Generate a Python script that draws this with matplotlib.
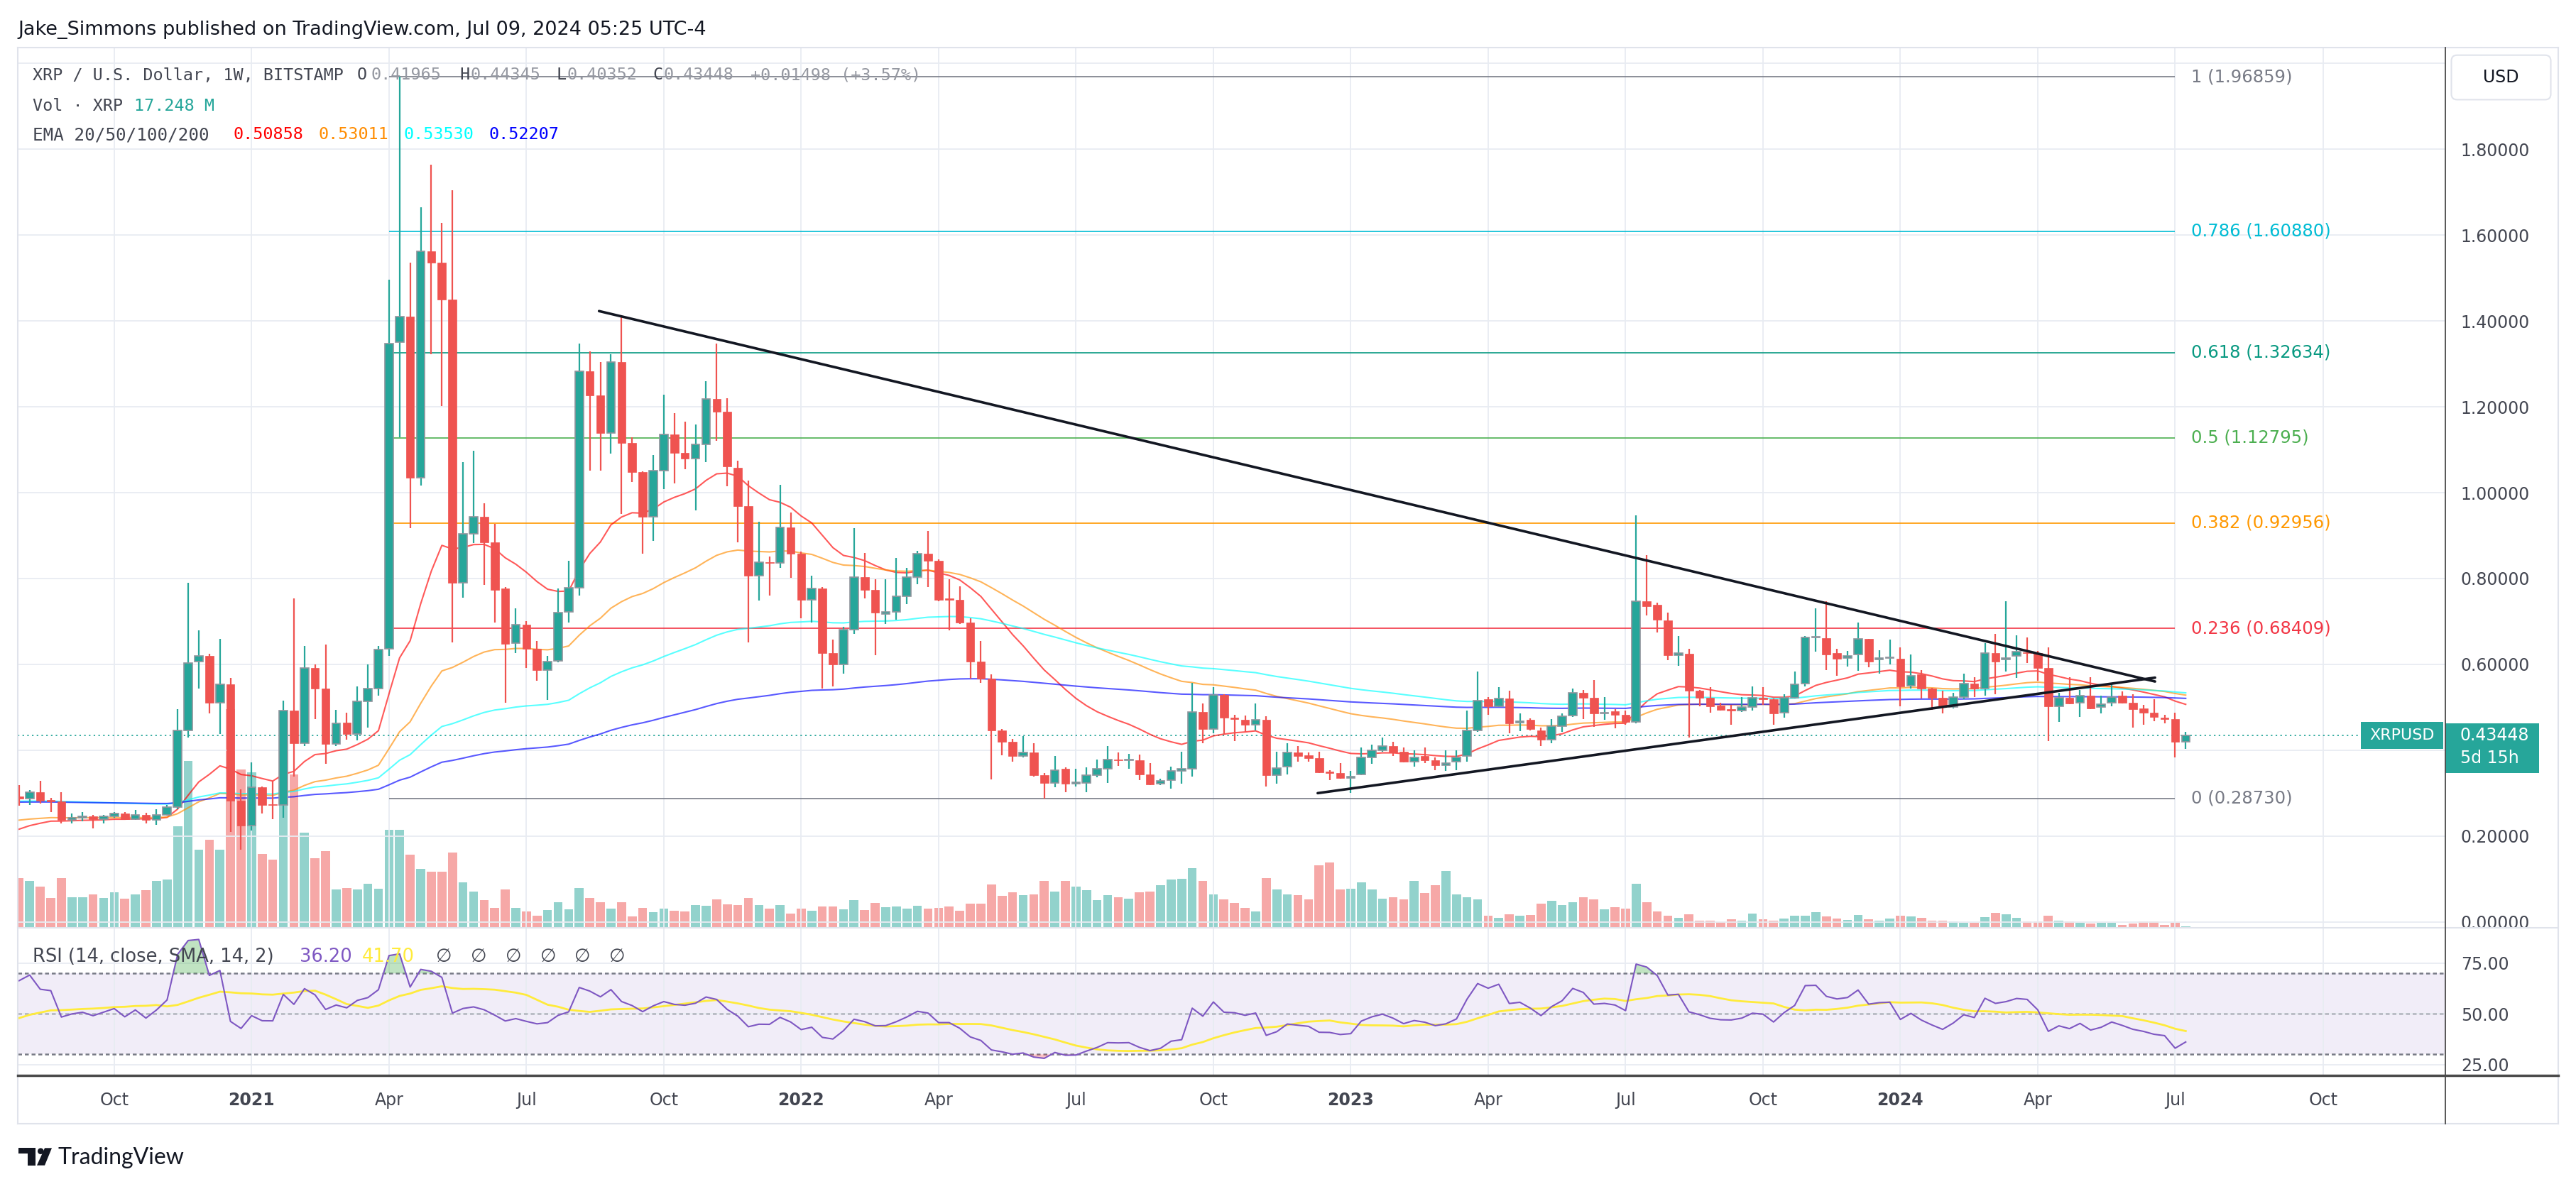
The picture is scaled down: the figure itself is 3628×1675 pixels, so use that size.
import numpy as np
import pandas as pd
import matplotlib
matplotlib.use("Agg")
import matplotlib.pyplot as plt
from matplotlib.patches import Rectangle, FancyBboxPatch, Polygon, Circle
from matplotlib.ticker import FuncFormatter

plt.rcParams['font.family'] = ['DejaVu Sans']

#----------------------------------- DATA: XRP / USD weekly, Bitstamp
first_week = '2020-08-03'

o = [0.292, 0.287, 0.302, 0.283, 0.281, 0.237, 0.243, 0.246, 0.240, 0.246,
     0.252, 0.239, 0.250, 0.237, 0.250, 0.268, 0.446, 0.607, 0.620, 0.511,
     0.553, 0.282, 0.224, 0.313, 0.273, 0.272, 0.492, 0.417, 0.592, 0.543,
     0.415, 0.464, 0.437, 0.514, 0.544, 0.636, 1.351, 1.410, 1.035, 1.562,
     1.535, 1.449, 0.790, 0.904, 0.943, 0.884, 0.776, 0.649, 0.692, 0.636,
     0.586, 0.608, 0.723, 0.778, 1.283, 1.227, 1.139, 1.305, 1.116, 1.048,
     0.943, 1.052, 1.135, 1.093, 1.080, 1.113, 1.218, 1.188, 1.058, 0.969,
     0.806, 0.838, 0.836, 0.919, 0.858, 0.751, 0.776, 0.626, 0.600, 0.681,
     0.803, 0.773, 0.717, 0.723, 0.759, 0.803, 0.857, 0.841, 0.753, 0.751,
     0.697, 0.606, 0.566, 0.446, 0.420, 0.387, 0.394, 0.341, 0.324, 0.357,
     0.322, 0.324, 0.341, 0.357, 0.378, 0.376, 0.377, 0.344, 0.322, 0.331,
     0.352, 0.357, 0.489, 0.449, 0.528, 0.475, 0.471, 0.459, 0.470, 0.341,
     0.361, 0.394, 0.388, 0.381, 0.348, 0.346, 0.336, 0.344, 0.383, 0.399,
     0.409, 0.396, 0.374, 0.386, 0.377, 0.365, 0.373, 0.387, 0.446, 0.518,
     0.502, 0.521, 0.464, 0.471, 0.446, 0.424, 0.456, 0.481, 0.534, 0.522,
     0.485, 0.490, 0.483, 0.466, 0.747, 0.738, 0.702, 0.622, 0.625, 0.538,
     0.522, 0.504, 0.494, 0.492, 0.501, 0.522, 0.518, 0.488, 0.522, 0.555,
     0.662, 0.661, 0.626, 0.615, 0.623, 0.659, 0.612, 0.614, 0.613, 0.551,
     0.577, 0.544, 0.522, 0.501, 0.524, 0.555, 0.544, 0.626, 0.611, 0.619,
     0.627, 0.626, 0.592, 0.502, 0.522, 0.511, 0.527, 0.501, 0.511, 0.527,
     0.511, 0.498, 0.488, 0.476, 0.472, 0.41965]

h = [0.318, 0.307, 0.328, 0.289, 0.302, 0.252, 0.256, 0.250, 0.250, 0.256,
     0.256, 0.260, 0.255, 0.263, 0.273, 0.496, 0.790, 0.680, 0.624, 0.659,
     0.568, 0.309, 0.371, 0.316, 0.328, 0.515, 0.753, 0.642, 0.600, 0.646,
     0.494, 0.488, 0.548, 0.600, 0.642, 1.496, 1.9686, 1.535, 1.665, 1.764,
     1.628, 1.704, 1.071, 1.097, 0.976, 0.927, 0.780, 0.731, 0.700, 0.655,
     0.619, 0.777, 0.841, 1.348, 1.329, 1.304, 1.322, 1.414, 1.129, 1.050,
     1.087, 1.229, 1.185, 1.165, 1.159, 1.259, 1.348, 1.220, 1.074, 1.028,
     0.933, 0.851, 1.019, 0.953, 0.862, 0.806, 0.780, 0.658, 0.688, 0.917,
     0.859, 0.799, 0.799, 0.848, 0.825, 0.865, 0.910, 0.845, 0.799, 0.782,
     0.708, 0.655, 0.577, 0.450, 0.426, 0.433, 0.417, 0.347, 0.386, 0.360,
     0.357, 0.360, 0.378, 0.409, 0.394, 0.391, 0.390, 0.370, 0.334, 0.361,
     0.396, 0.557, 0.509, 0.547, 0.530, 0.483, 0.481, 0.509, 0.479, 0.396,
     0.417, 0.409, 0.394, 0.396, 0.354, 0.370, 0.352, 0.407, 0.413, 0.430,
     0.420, 0.407, 0.400, 0.407, 0.383, 0.399, 0.399, 0.492, 0.583, 0.524,
     0.547, 0.538, 0.485, 0.474, 0.453, 0.472, 0.485, 0.544, 0.540, 0.564,
     0.524, 0.496, 0.492, 0.947, 0.854, 0.743, 0.721, 0.666, 0.636, 0.540,
     0.547, 0.511, 0.505, 0.524, 0.548, 0.547, 0.520, 0.531, 0.583, 0.666,
     0.731, 0.747, 0.636, 0.632, 0.697, 0.660, 0.633, 0.658, 0.640, 0.623,
     0.587, 0.545, 0.538, 0.534, 0.579, 0.570, 0.649, 0.671, 0.747, 0.668,
     0.662, 0.632, 0.640, 0.534, 0.570, 0.540, 0.570, 0.527, 0.557, 0.537,
     0.531, 0.505, 0.518, 0.483, 0.488, 0.44345]

l = [0.270, 0.272, 0.276, 0.256, 0.230, 0.229, 0.234, 0.217, 0.229, 0.243,
     0.237, 0.237, 0.229, 0.226, 0.247, 0.262, 0.430, 0.544, 0.485, 0.437,
     0.210, 0.169, 0.213, 0.252, 0.240, 0.243, 0.339, 0.410, 0.472, 0.368,
     0.410, 0.424, 0.423, 0.452, 0.527, 0.619, 1.129, 0.917, 1.017, 1.322,
     1.202, 0.651, 0.756, 0.883, 0.785, 0.697, 0.511, 0.626, 0.592, 0.561,
     0.517, 0.605, 0.697, 0.760, 1.052, 1.052, 1.091, 0.950, 1.024, 0.858,
     0.887, 1.008, 1.021, 1.054, 0.959, 1.071, 1.120, 1.015, 0.884, 0.651,
     0.749, 0.760, 0.825, 0.802, 0.708, 0.697, 0.544, 0.548, 0.579, 0.671,
     0.753, 0.621, 0.694, 0.704, 0.740, 0.786, 0.780, 0.747, 0.679, 0.694,
     0.566, 0.557, 0.332, 0.388, 0.373, 0.383, 0.339, 0.2873, 0.313, 0.302,
     0.315, 0.302, 0.337, 0.324, 0.364, 0.357, 0.331, 0.319, 0.318, 0.311,
     0.322, 0.339, 0.417, 0.439, 0.436, 0.422, 0.443, 0.446, 0.315, 0.322,
     0.344, 0.373, 0.374, 0.346, 0.331, 0.334, 0.300, 0.341, 0.368, 0.397,
     0.386, 0.371, 0.361, 0.370, 0.354, 0.351, 0.354, 0.373, 0.443, 0.483,
     0.500, 0.440, 0.445, 0.446, 0.409, 0.417, 0.442, 0.477, 0.472, 0.455,
     0.470, 0.451, 0.459, 0.462, 0.714, 0.674, 0.609, 0.596, 0.430, 0.502,
     0.488, 0.492, 0.459, 0.489, 0.492, 0.505, 0.459, 0.476, 0.520, 0.548,
     0.629, 0.586, 0.573, 0.595, 0.585, 0.594, 0.579, 0.600, 0.502, 0.544,
     0.521, 0.494, 0.485, 0.497, 0.518, 0.524, 0.527, 0.531, 0.583, 0.568,
     0.603, 0.561, 0.422, 0.466, 0.507, 0.477, 0.496, 0.485, 0.502, 0.509,
     0.453, 0.459, 0.468, 0.462, 0.383, 0.40352]

c = [0.287, 0.302, 0.283, 0.281, 0.237, 0.243, 0.246, 0.240, 0.246, 0.252,
     0.239, 0.250, 0.237, 0.250, 0.268, 0.446, 0.603, 0.620, 0.511, 0.553,
     0.282, 0.224, 0.313, 0.273, 0.272, 0.492, 0.417, 0.592, 0.543, 0.415,
     0.462, 0.437, 0.514, 0.544, 0.634, 1.348, 1.410, 1.035, 1.562, 1.535,
     1.449, 0.790, 0.904, 0.943, 0.884, 0.773, 0.647, 0.692, 0.636, 0.587,
     0.606, 0.721, 0.778, 1.283, 1.227, 1.139, 1.305, 1.116, 1.048, 0.943,
     1.052, 1.135, 1.092, 1.080, 1.113, 1.218, 1.188, 1.061, 0.969, 0.806,
     0.838, 0.836, 0.919, 0.858, 0.751, 0.776, 0.626, 0.600, 0.681, 0.803,
     0.773, 0.721, 0.723, 0.759, 0.803, 0.857, 0.841, 0.751, 0.751, 0.697,
     0.606, 0.566, 0.446, 0.420, 0.387, 0.394, 0.341, 0.324, 0.354, 0.322,
     0.323, 0.341, 0.357, 0.378, 0.376, 0.377, 0.344, 0.320, 0.328, 0.352,
     0.357, 0.489, 0.449, 0.528, 0.475, 0.472, 0.459, 0.470, 0.341, 0.358,
     0.394, 0.387, 0.381, 0.348, 0.347, 0.336, 0.339, 0.383, 0.399, 0.409,
     0.394, 0.373, 0.383, 0.377, 0.365, 0.370, 0.383, 0.446, 0.515, 0.502,
     0.521, 0.463, 0.468, 0.449, 0.424, 0.456, 0.479, 0.534, 0.522, 0.485,
     0.488, 0.483, 0.466, 0.747, 0.736, 0.704, 0.621, 0.626, 0.538, 0.522,
     0.502, 0.494, 0.493, 0.501, 0.522, 0.518, 0.485, 0.522, 0.553, 0.662,
     0.664, 0.623, 0.613, 0.620, 0.659, 0.607, 0.614, 0.616, 0.548, 0.573,
     0.544, 0.522, 0.502, 0.524, 0.555, 0.544, 0.626, 0.607, 0.615, 0.629,
     0.626, 0.592, 0.502, 0.522, 0.509, 0.527, 0.498, 0.507, 0.524, 0.511,
     0.496, 0.488, 0.477, 0.472, 0.41965, 0.43448]

# weekly volume, millions of XRP
vol = [490, 462, 406, 294, 490, 301, 301, 329, 294, 350,
       287, 329, 371, 462, 476, 1001, 1645, 770, 868, 770,
       2156, 1561, 1533, 728, 672, 2142, 1512, 938, 686, 756,
       378, 392, 378, 434, 385, 966, 966, 721, 581, 553,
       553, 742, 448, 357, 273, 196, 378, 196, 161, 119,
       175, 252, 182, 392, 294, 252, 189, 252, 112, 196,
       154, 189, 168, 161, 224, 217, 280, 231, 224, 294,
       224, 189, 224, 140, 189, 168, 210, 210, 182, 273,
       175, 245, 203, 210, 189, 217, 189, 196, 210, 168,
       238, 238, 427, 315, 350, 322, 329, 462, 357, 462,
       406, 371, 273, 322, 301, 287, 350, 357, 420, 476,
       483, 588, 462, 329, 280, 245, 196, 161, 490, 378,
       329, 322, 280, 616, 644, 378, 385, 448, 378, 287,
       301, 280, 462, 343, 420, 560, 329, 301, 280, 119,
       98, 133, 119, 126, 238, 266, 224, 252, 301, 280,
       182, 203, 189, 434, 252, 161, 119, 98, 133, 67,
       67, 56, 84, 70, 140, 84, 70, 91, 119, 119,
       154, 112, 91, 77, 126, 84, 70, 91, 119, 112,
       98, 70, 70, 63, 49, 49, 105, 147, 133, 98,
       63, 63, 119, 70, 63, 49, 42, 49, 49, 28,
       42, 63, 63, 28, 49, 17.248]

ema_periods = [20, 50, 100, 200]
ema_seed = [0.216, 0.237, 0.281, 0.279]          # values at the first visible week
ema_colors = ['#ff0000', '#ff8c00', '#00ffff', '#0000ff']
ema_last = ['0.50858', '0.53011', '0.53530', '0.52207']

rsi_seed_gain, rsi_seed_loss = 0.0085, 0.0043    # Wilder averages at the first week
rsi_ma_seed = 46.5

fib_ratios = ['1', '0.786', '0.618', '0.5', '0.382', '0.236', '0']
fib_prices = [1.96859, 1.60880, 1.32634, 1.12795, 0.92956, 0.68409, 0.28730]
fib_colors = ['#787b86', '#00bcd4', '#089981', '#4caf50', '#ff9800', '#f23645', '#787b86']
fib_weeks = [35, 204]

# hand drawn triangle (week index, price)
trend_upper = [(54.87, 1.423), (202.1, 0.560)]
trend_lower = [(122.87, 0.2999), (202.1, 0.569)]

#----------------------------------- LAYOUT (pixels of the 3628x1675 picture)
W, H, DPI = 3628, 1675, 100
X0, X1, XR = 25, 3443.7, 3603
Y_TOP, Y_SPLIT, Y_RSI_BOT, Y_BOT = 66.7, 1307, 1515.4, 1583
BAR0, BAR_W = 26.9, 14.885          # px of first candle, px per week
P0_PX, PX_PER_USD = 1298.7, 604.7   # price scale
R50_PX, PX_PER_RSI = 1428.3, 2.852  # rsi scale
VOL_PER_PX = 7.0

UP, DN = '#26a69a', '#ef5350'
GRID = '#e8ecf2'
TXT = '#434651'
MONO = 'DejaVu Sans Mono'

n = len(c)
x = np.arange(n)
o_, h_, l_, c_ = map(np.array, (o, h, l, c))
dates = pd.date_range(first_week, periods=230, freq='W-MON')

#----------------------------------- INDICATORS
emas = []
for per, seed in zip(ema_periods, ema_seed):
    a = 2.0 / (per + 1)
    e = np.empty(n)
    e[0] = seed
    for i in range(1, n):
        e[i] = a * c_[i] + (1 - a) * e[i - 1]
    emas.append(e)

rsi = np.empty(n)
g, ls_ = rsi_seed_gain, rsi_seed_loss
rsi[0] = 100 * g / (g + ls_)
for i in range(1, n):
    d = c_[i] - c_[i - 1]
    g = (13 * g + max(d, 0)) / 14
    ls_ = (13 * ls_ + max(-d, 0)) / 14
    rsi[i] = 100 * g / (g + ls_)
rsi_ma = np.convolve(np.concatenate([np.full(13, rsi_ma_seed), rsi]), np.ones(14) / 14, mode='valid')

#----------------------------------- FIGURE
fig = plt.figure(figsize=(W / DPI, H / DPI), dpi=DPI, facecolor='white')
ax = fig.add_axes([X0 / W, 1 - Y_SPLIT / H, (X1 - X0) / W, (Y_SPLIT - Y_TOP) / H])
ax_vol = ax.twinx()
ax.set_zorder(ax_vol.get_zorder() + 1)
ax.patch.set_visible(False)
ax_rsi = fig.add_axes([X0 / W, 1 - Y_RSI_BOT / H, (X1 - X0) / W, (Y_RSI_BOT - Y_SPLIT) / H], sharex=ax)

ax.set_xlim((X0 - BAR0) / BAR_W, (X1 - BAR0) / BAR_W)
ax.set_ylim((P0_PX - Y_SPLIT) / PX_PER_USD, (P0_PX - Y_TOP) / PX_PER_USD)
ax_vol.set_ylim(0, VOL_PER_PX * (Y_SPLIT - Y_TOP))
ax_rsi.set_ylim(50 - (Y_RSI_BOT - R50_PX) / PX_PER_RSI, 50 + (R50_PX - Y_SPLIT) / PX_PER_RSI)

# quarter ticks on first week of Jan/Apr/Jul/Oct
tick_pos = [k for k, d in enumerate(dates) if d.month in (1, 4, 7, 10) and d.day <= 7]
tick_lbl = [str(dates[k].year) if dates[k].month == 1 else dates[k].strftime('%b') for k in tick_pos]

for a_ in (ax, ax_rsi):
    for s in a_.spines.values():
        s.set_visible(False)
    a_.set_xticks(tick_pos)
    a_.tick_params(axis='x', length=0, labelbottom=False)
    a_.grid(True, color=GRID, lw=1.3)
    a_.set_axisbelow(True)
ax_vol.axis('off')

# 0.4 and 2.0 sit under the price / currency boxes, as on TradingView
hidden = (0.4, 2.0)
ax.yaxis.tick_right()
ax.set_yticks(np.round(np.arange(0, 2.01, 0.2), 1))
ax.yaxis.set_major_formatter(FuncFormatter(
    lambda v, p: '' if any(abs(v - hv) < 1e-6 for hv in hidden) else f'{v:.5f}'))
ax.tick_params(axis='y', length=0, pad=16, labelsize=17, labelcolor=TXT)

ax_rsi.yaxis.tick_right()
ax_rsi.set_yticks([25, 50, 75])
ax_rsi.yaxis.set_major_formatter(FuncFormatter(lambda v, p: f'{v:.2f}'))
ax_rsi.tick_params(axis='y', length=0, pad=16, labelsize=17, labelcolor=TXT)

for p, lab in zip(tick_pos, tick_lbl):
    ax_rsi.text(p, -0.166, lab, transform=ax_rsi.get_xaxis_transform(), ha='center', va='center',
                fontsize=17, color=TXT, fontweight='bold' if lab.isdigit() else 'normal', clip_on=False)

#----------------------------------- VOLUME
up = c_ >= o_
ax_vol.bar(x, vol, width=0.85, color=np.where(up, UP, DN), alpha=0.5, lw=0)

#----------------------------------- PRICE PANE
ax.axhline(c_[-1], color=UP, lw=1.3, ls=(0, (1.2, 2.5)), zorder=1.5)
ax.hlines(fib_prices, fib_weeks[0], fib_weeks[1], colors=fib_colors, lw=1.2, zorder=2)
for r, p, col in zip(fib_ratios, fib_prices, fib_colors):
    ax.text(205.5, p, f'{r} ({p:.5f})', color=col, fontsize=17.5, va='center', ha='left')

for e, col in zip(emas, ema_colors):
    ax.plot(x, e, color=col, alpha=0.65, lw=1.5, zorder=2.5)

body_lo = np.minimum(o_, c_)
body_h = np.maximum(np.abs(c_ - o_), 0.0025)
ax.vlines(x, l_, h_, colors=np.where(up, UP, DN), lw=1.6, zorder=3)
ax.bar(x[up], body_h[up], bottom=body_lo[up], width=0.78, color=UP, edgecolor='#8f949c', lw=1.2, zorder=4)
ax.bar(x[~up], body_h[~up], bottom=body_lo[~up], width=0.78, color=DN, edgecolor=DN, lw=0.5, zorder=4)

for tl in (trend_upper, trend_lower):
    ax.plot([tl[0][0], tl[1][0]], [tl[0][1], tl[1][1]], color='#131722', lw=2.6,
            solid_capstyle='round', zorder=6)

#----------------------------------- RSI PANE
ax_rsi.axhspan(30, 70, color='#7e57c2', alpha=0.1, lw=0, zorder=0.5)
ax_rsi.axhline(70, color='#787b86', lw=1.8, ls=(0, (2.2, 1.6)), zorder=1)
ax_rsi.axhline(30, color='#787b86', lw=1.8, ls=(0, (2.2, 1.6)), zorder=1)
ax_rsi.axhline(50, color='#787b86', alpha=0.5, lw=1.8, ls=(0, (2.2, 1.6)), zorder=1)
ax_rsi.fill_between(x, 70, rsi, where=rsi > 70, interpolate=True, color='#4caf50', alpha=0.35, lw=0)
ax_rsi.fill_between(x, 30, rsi, where=rsi < 30, interpolate=True, color='#f23645', alpha=0.3, lw=0)
ax_rsi.plot(x, rsi, color='#7e57c2', lw=1.5, zorder=3)
ax_rsi.plot(x, rsi_ma, color='#ffeb3b', lw=2.0, zorder=2.5)

#----------------------------------- OVERLAY: frame, legends, labels
ov = fig.add_axes([0, 0, 1, 1])
ov.set_xlim(0, W)
ov.set_ylim(H, 0)
ov.axis('off')
ov.set_zorder(10)

light = '#e0e3eb'
ov.plot([X0, XR], [Y_TOP, Y_TOP], color=light, lw=1.5)
ov.plot([X0, XR], [Y_BOT, Y_BOT], color=light, lw=1.5)
ov.plot([X0, X0], [Y_TOP, Y_BOT], color=light, lw=1.5)
ov.plot([XR, XR], [Y_TOP, Y_BOT], color=light, lw=1.5)
ov.plot([X0, XR], [Y_SPLIT, Y_SPLIT], color=light, lw=1.5)
ov.plot([X0, XR], [Y_RSI_BOT, Y_RSI_BOT], color='#4a4a4a', lw=2.5)
ov.plot([X1, X1], [Y_TOP, Y_BOT], color='#4a4a4a', lw=1.3)

ov.text(25, 41.7, 'Jake_Simmons published on TradingView.com, Jul 09, 2024 05:25 UTC-4',
        fontsize=19.5, color='#131722', va='center', ha='left')

row1 = [(45.6, 'XRP / U.S. Dollar, 1W, BITSTAMP', TXT), (503, 'O', TXT), (522, '0.41965', '#9598a1'),
        (647, 'H', TXT), (663, '0.44345', '#9598a1'), (784, 'L', TXT), (798, '0.40352', '#9598a1'),
        (919, 'C', TXT), (935, '0.43448', '#9598a1'), (1057, '+0.01498 (+3.57%)', '#9598a1')]
for px, t, col in row1:
    ov.text(px, 106, t, fontsize=16.8, family=MONO, color=col, va='center', ha='left')
ov.text(45.6, 150, 'Vol · XRP', fontsize=16.8, family=MONO, color=TXT, va='center', ha='left')
ov.text(189, 150, '17.248 M', fontsize=16.8, family=MONO, color=UP, va='center', ha='left')
ov.text(45.6, 190, 'EMA 20/50/100/200', fontsize=17.5, family=MONO, color=TXT, va='center', ha='left')
for px, t, col in zip([329, 448, 568, 688], ema_last, ema_colors):
    ov.text(px, 190, t, fontsize=16.8, family=MONO, color=col, va='center', ha='left')

ov.text(46, 1348, 'RSI (14, close, SMA, 14, 2)', fontsize=18.5, color=TXT, va='center', ha='left')
ov.text(422, 1348, '36.20', fontsize=18.5, color='#7e57c2', va='center', ha='left')
ov.text(510, 1348, '41.70', fontsize=18.5, color='#ffeb3b', va='center', ha='left')
for px in [614, 663, 712, 761, 809, 858]:
    ov.text(px, 1348, '∅', fontsize=18.5, color=TXT, va='center', ha='left')

# USD box
ov.add_patch(FancyBboxPatch((3452.5, 77.7), 140, 62.7, boxstyle='round,pad=0,rounding_size=8',
                            facecolor='white', edgecolor=light, lw=1.5))
ov.text(3522.5, 109, 'USD', fontsize=17, color='#131722', ha='center', va='center')


def price_px(p):
    return H - ax.transData.transform((0, p))[1]


py = price_px(c_[-1])
ov.add_patch(Rectangle((3325, py - 18.9), 115.5, 37.8, facecolor=UP, lw=0))
ov.text(3382.7, py, 'XRPUSD', fontsize=16, color='white', ha='center', va='center')
ov.add_patch(Rectangle((X1, py - 17.3), 131.8, 70, facecolor=UP, lw=0))
ov.text(3465, py, f'{c_[-1]:.5f}', fontsize=17, color='white', ha='left', va='center')
ov.text(3465, py + 32, '5d 15h', fontsize=17, color='white', ha='left', va='center')

# TradingView logo
dark = '#131722'
ov.add_patch(Rectangle((26, 1617.3), 24, 7.7, facecolor=dark, lw=0))
ov.add_patch(Rectangle((39.3, 1617.3), 10.7, 24.4, facecolor=dark, lw=0))
ov.add_patch(Circle((57.3, 1621.7), 4.3, facecolor=dark, lw=0))
ov.add_patch(Polygon([(63, 1617.3), (73, 1617.3), (63, 1641.7), (52, 1641.7)], facecolor=dark, lw=0))
ov.text(82, 1631, 'TradingView', fontsize=23, family='Lato', color=dark, ha='left', va='center')

fig.savefig('out.png', dpi=DPI, facecolor='white')
